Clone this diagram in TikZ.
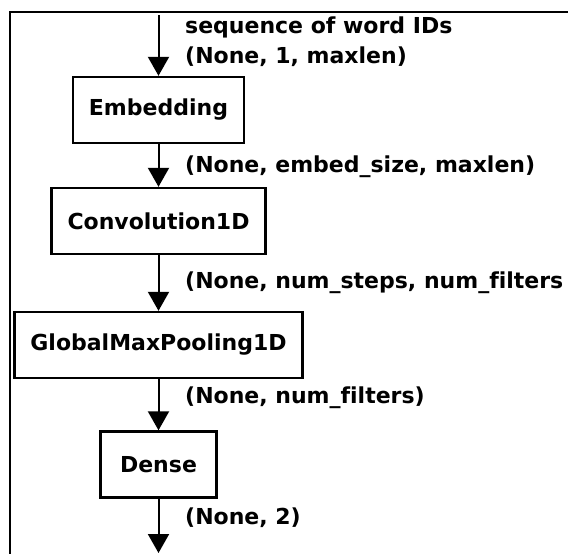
\documentclass[tikz,border=0pt]{standalone}
\usepackage{fontspec}
\setsansfont{DejaVu Sans}[Ligatures=NoCommon]
\usetikzlibrary{arrows.meta}

\begin{document}
\begin{tikzpicture}[x=1pt, y=-1pt,
    layer/.style={draw, line width=2.4pt, minimum height=66pt, inner xsep=16pt,
        font=\sffamily\bfseries\fontsize{22}{30}\selectfont},
    dims/.style={anchor=west, inner sep=0pt, align=left,
        font=\sffamily\bfseries\fontsize{22}{30}\selectfont},
    flow/.style={line width=2pt, -{Triangle[length=19pt, width=21pt]}}]
    \useasboundingbox (0,0) rectangle (568,554);
    % frame
    \draw[line width=2pt] (568,12) -- (10,12) -- (10,554);
    % layers
    \node[layer] (emb) at (158.5,110) {Embedding};
    \node[layer] (conv) at (158.5,221) {Convolution1D};
    \node[layer] (pool) at (158.5,345) {GlobalMaxPooling1D};
    \node[layer, minimum width=116pt] (dense) at (158.5,464.5) {Dense};
    \coordinate (in) at (158.5,15);
    \coordinate (out) at (158.5,553);
    % connections
    \draw[flow] (in) -- (emb);
    \draw[flow] (emb) -- (conv);
    \draw[flow] (conv) -- (pool);
    \draw[flow] (pool) -- (dense);
    \draw[flow] (dense) -- (out);
    % tensor shapes
    \node[dims] (lin) at (185,41.5) {sequence of word IDs\\(None, 1, maxlen)};
    \node[dims] (lemb) at (185,167) {(None, embed\_size, maxlen)};
    \node[dims] (lconv) at (185,283) {(None, num\_steps, num\_filters};
    \node[dims] (lpool) at (185,398) {(None, num\_filters)};
    \node[dims] (ldense) at (185,518) {(None, 2)};
\end{tikzpicture}
\end{document}
